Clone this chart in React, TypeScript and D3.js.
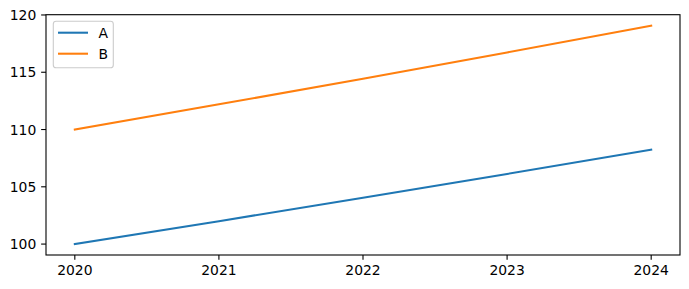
import React from "react";
import * as d3 from "d3";

const years = [2020, 2021, 2022, 2023, 2024];
const seriesA = [100, 102, 104.04, 106.12, 108.24];
const seriesB = [110, 112.2, 114.44, 116.73, 119.07];
const seriesNames = ["A", "B"];
const colors = ["#1f77b4", "#ff7f0e"];
const yTicks = [100, 105, 110, 115, 120];

const W = 689;
const H = 289;
const M = { left: 46, right: 680, top: 14.7, bottom: 255 };
const FONT = "DejaVu Sans, sans-serif";

export default function App() {
  const all = [...seriesA, ...seriesB];
  const yMin = d3.min(all)!;
  const yMax = d3.max(all)!;
  const yPad = (yMax - yMin) * 0.05;
  const xPad = (years[years.length - 1] - years[0]) * 0.05;
  const x = d3
    .scaleLinear()
    .domain([years[0] - xPad, years[years.length - 1] + xPad])
    .range([M.left, M.right]);
  const y = d3
    .scaleLinear()
    .domain([yMin - yPad, yMax + yPad])
    .range([M.bottom, M.top]);
  const line = d3
    .line<number>()
    .x((_, i) => x(years[i]))
    .y((d) => y(d));
  const data = [seriesA, seriesB];
  const tickLen = 4.86;
  const fs = 13.9;

  return (
    <svg
      width={W}
      height={H}
      style={{ position: "absolute", left: 0, top: 0, background: "#fff" }}
      fontFamily={FONT}
    >
      <rect x={0} y={0} width={W} height={H} fill="#fff" />
      {data.map((s, i) => (
        <path
          key={i}
          d={line(s)!}
          fill="none"
          stroke={colors[i]}
          strokeWidth={2.08}
          strokeLinecap="square"
        />
      ))}
      <rect
        x={M.left}
        y={M.top}
        width={M.right - M.left}
        height={M.bottom - M.top}
        fill="none"
        stroke="#000"
        strokeWidth={1.1}
      />
      {years.map((t) => (
        <g key={t}>
          <line
            x1={x(t)}
            x2={x(t)}
            y1={M.bottom}
            y2={M.bottom + tickLen}
            stroke="#000"
            strokeWidth={1.1}
          />
          <text
            x={x(t)}
            y={M.bottom + tickLen + 4.86}
            dy="0.76em"
            textAnchor="middle"
            fontSize={fs}
            fill="#000"
          >
            {t}
          </text>
        </g>
      ))}
      {yTicks.map((t) => (
        <g key={t}>
          <line
            x1={M.left - tickLen}
            x2={M.left}
            y1={y(t)}
            y2={y(t)}
            stroke="#000"
            strokeWidth={1.1}
          />
          <text
            x={M.left - tickLen - 4.86}
            y={y(t)}
            dy="0.36em"
            textAnchor="end"
            fontSize={fs}
            fill="#000"
          >
            {t}
          </text>
        </g>
      ))}
      <g>
        <rect
          x={M.left + 7.3}
          y={M.top + 6.6}
          width={60}
          height={46.4}
          rx={2.8}
          fill="#fff"
          fillOpacity={0.8}
          stroke="#cccccc"
          strokeWidth={1.1}
        />
        {seriesNames.map((n, i) => (
          <g key={n}>
            <line
              x1={M.left + 12}
              x2={M.left + 42}
              y1={M.top + 18 + i * 21}
              y2={M.top + 18 + i * 21}
              stroke={colors[i]}
              strokeWidth={2.08}
            />
            <text
              x={M.left + 52.5}
              y={M.top + 18 + i * 21}
              dy="0.36em"
              fontSize={fs}
              fill="#000"
            >
              {n}
            </text>
          </g>
        ))}
      </g>
    </svg>
  );
}
